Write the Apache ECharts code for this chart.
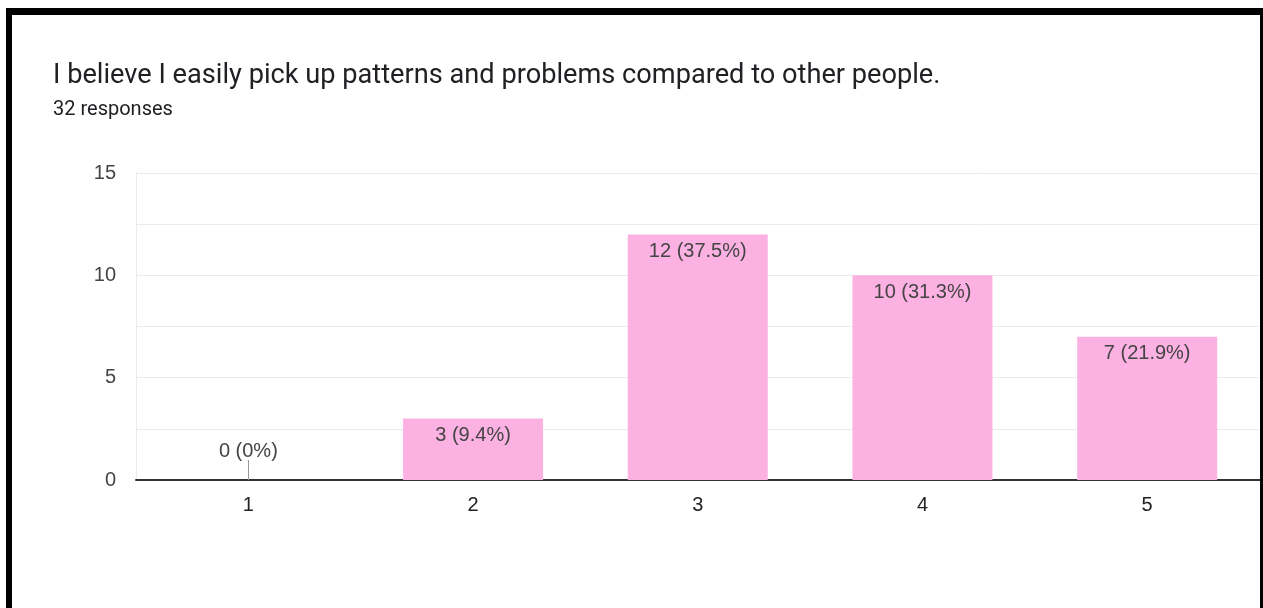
<!DOCTYPE html>
<html>
<head>
<meta charset="utf-8">
<script src="https://cdn.jsdelivr.net/npm/echarts@6/dist/echarts.min.js"></script>
<style>
  html, body { margin: 0; padding: 0; background: #fff; }
  #chart { width: 1263px; height: 608px; }
</style>
</head>
<body>
<div id="chart"></div>
<script>
// Survey question and response counts per rating
const questionTitle = 'I believe I easily pick up patterns and problems compared to other people.';
const responseNote = '32 responses';
const categories = ['1', '2', '3', '4', '5'];
const counts = [0, 3, 12, 10, 7];
const percentLabels = ['0%', '9.4%', '37.5%', '31.3%', '21.9%'];
const yTicks = [0, 5, 10, 15];

const chartFont = 'Arial, "Liberation Sans", sans-serif';
const chart = echarts.init(document.getElementById('chart'), null, { renderer: 'canvas' });

const barData = counts.map((v, i) => ({
  value: v,
  label: v === 0
    ? { position: 'top', distance: 19 }
    : { position: 'insideTop', distance: 7 }
}));

chart.setOption({
  animation: false,
  backgroundColor: '#ffffff',
  textStyle: { fontFamily: chartFont },
  graphic: [
    // frame around the card
    { type: 'rect', shape: { x: 6, y: 8, width: 1257, height: 7 }, style: { fill: '#000' }, z: 100 },
    { type: 'rect', shape: { x: 6, y: 8, width: 6, height: 600 }, style: { fill: '#000' }, z: 100 },
    { type: 'rect', shape: { x: 1260, y: 8, width: 3, height: 600 }, style: { fill: '#000' }, z: 100 },
    {
      type: 'text', left: 53, top: 63,
      style: { text: questionTitle, fill: '#202124', font: '27.2px Roboto, Arial, sans-serif' }
    },
    {
      type: 'text', left: 53, top: 100,
      style: { text: responseNote, fill: '#202124', font: '20px Roboto, Arial, sans-serif' }
    }
  ],
  grid: { left: 136, right: 3.5, top: 173, bottom: 128, containLabel: false },
  xAxis: {
    type: 'category',
    data: categories,
    axisLine: { show: true, lineStyle: { color: '#333', width: 2 } },
    axisTick: { show: false },
    axisLabel: { color: '#222', fontSize: 20, margin: 15, fontFamily: chartFont },
    splitLine: { show: false }
  },
  yAxis: {
    type: 'value',
    min: 0,
    max: 15,
    interval: 2.5,
    axisLine: { show: true, lineStyle: { color: '#ebebeb', width: 1 } },
    axisTick: { show: false },
    axisLabel: {
      color: '#444', fontSize: 20, margin: 20, fontFamily: chartFont,
      formatter: v => (yTicks.indexOf(v) >= 0 ? String(v) : '')
    },
    splitLine: { show: true, lineStyle: { color: '#ebebeb', width: 1 } }
  },
  series: [
    {
      type: 'bar',
      data: barData,
      barWidth: '62.3%',
      itemStyle: { color: '#fcb1e3' },
      label: {
        show: true,
        color: '#444',
        fontSize: 20,
        fontFamily: chartFont,
        formatter: p => p.value + ' (' + percentLabels[p.dataIndex] + ')'
      },
      z: 2
    },
    {
      // short stem linking a zero-count label to the axis
      type: 'custom',
      data: counts.map((v, i) => [i, v]),
      renderItem: (params, api) => {
        if (api.value(1) !== 0) return null;
        const p = api.coord([api.value(0), 0]);
        return {
          type: 'line',
          shape: { x1: Math.round(p[0]) + 0.5, y1: p[1], x2: Math.round(p[0]) + 0.5, y2: p[1] - 20 },
          style: { stroke: '#999', lineWidth: 1 }
        };
      },
      z: 3
    }
  ]
});
</script>
</body>
</html>
